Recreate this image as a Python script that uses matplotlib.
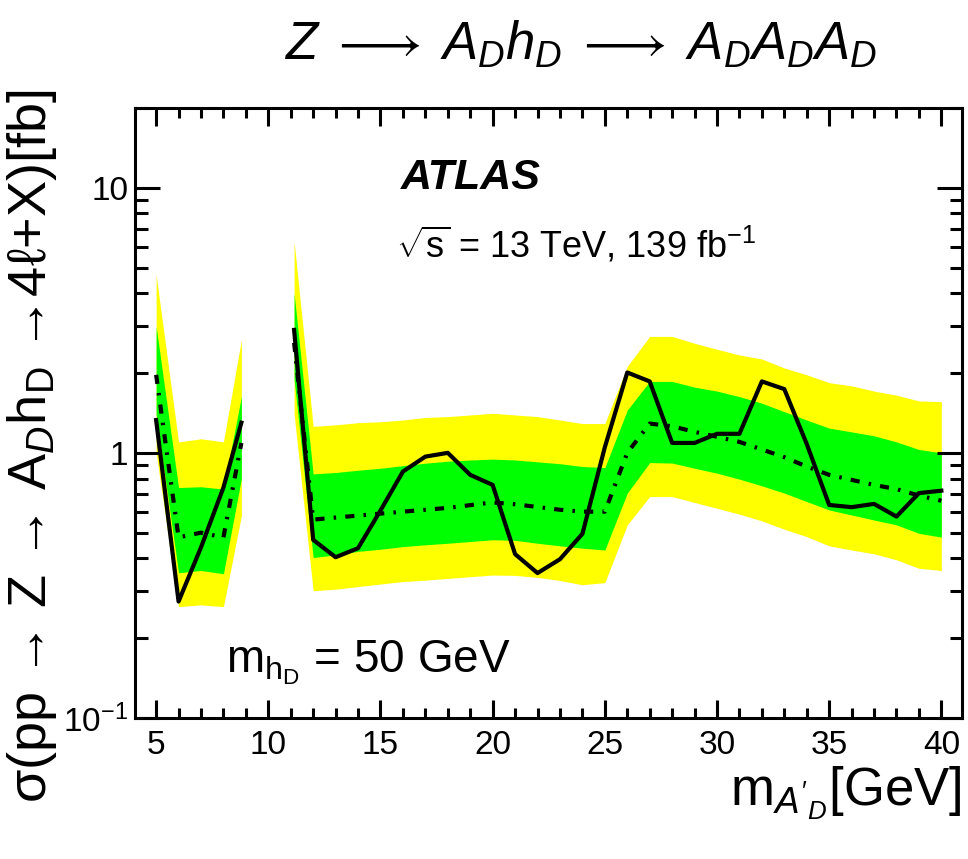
import matplotlib
matplotlib.use("Agg")
import matplotlib.pyplot as plt
from matplotlib.ticker import MultipleLocator, FixedLocator, LogLocator, NullFormatter

plt.rcParams['font.family'] = ['Liberation Sans', 'DejaVu Sans']
plt.rcParams['mathtext.fontset'] = 'custom'
plt.rcParams['mathtext.rm'] = 'Liberation Sans'
plt.rcParams['mathtext.it'] = 'Liberation Sans:italic'
plt.rcParams['mathtext.bf'] = 'Liberation Sans:bold'

# low mass range (below the J/psi veto gap)
m_low = [5, 6, 7, 8, 8.8]
obs_low = [1.33, 0.275, 0.44, 0.74, 1.30]
exp_low = [1.97, 0.48, 0.50, 0.48, 1.09]
p1_low = [3.0, 0.74, 0.745, 0.73, 1.63]
m1_low = [1.4, 0.353, 0.36, 0.35, 0.80]
p2_low = [4.7, 1.10, 1.13, 1.10, 2.67]
m2_low = [1.0, 0.263, 0.267, 0.263, 0.58]

# high mass range
m_high = [11.15, 12, 13, 14, 15, 16, 17, 18, 19, 20, 21, 22, 23, 24, 25,
          26, 27, 28, 29, 30, 31, 32, 33, 34, 35, 36, 37, 38, 39, 40]
obs_high = [2.91, 0.47, 0.404, 0.437, 0.606, 0.85, 0.968, 1.0, 0.826, 0.757,
            0.415, 0.352, 0.397, 0.495, 1.05, 2.01, 1.86, 1.09, 1.09, 1.18,
            1.18, 1.86, 1.74, 1.08, 0.636, 0.624, 0.642, 0.575, 0.705, 0.72]
exp_high = [2.6, 0.56, 0.57, 0.58, 0.59, 0.60, 0.61, 0.62, 0.635, 0.65,
            0.64, 0.625, 0.61, 0.60, 0.60, 1.0, 1.29, 1.26, 1.20, 1.15,
            1.10, 1.03, 0.963, 0.888, 0.826, 0.791, 0.757, 0.73, 0.69, 0.66]
p1_high = [4.0, 0.833, 0.843, 0.86, 0.875, 0.895, 0.914, 0.93, 0.94, 0.947,
           0.94, 0.925, 0.91, 0.888, 0.88, 1.45, 1.86, 1.86, 1.77, 1.71,
           1.63, 1.54, 1.43, 1.33, 1.24, 1.20, 1.16, 1.10, 1.03, 1.0]
m1_high = [1.9, 0.403, 0.412, 0.425, 0.433, 0.443, 0.45, 0.456, 0.463, 0.47,
           0.468, 0.456, 0.446, 0.437, 0.43, 0.705, 0.919, 0.915, 0.875, 0.838,
           0.796, 0.751, 0.705, 0.655, 0.609, 0.583, 0.558, 0.535, 0.497, 0.481]
p2_high = [6.27, 1.26, 1.275, 1.30, 1.31, 1.33, 1.36, 1.37, 1.39, 1.41,
           1.39, 1.37, 1.33, 1.29, 1.29, 2.12, 2.75, 2.75, 2.59, 2.46,
           2.34, 2.26, 2.09, 1.97, 1.84, 1.79, 1.71, 1.65, 1.57, 1.56]
m2_high = [1.4, 0.302, 0.306, 0.313, 0.32, 0.327, 0.331, 0.336, 0.341, 0.346,
           0.345, 0.339, 0.33, 0.318, 0.324, 0.535, 0.684, 0.684, 0.65, 0.618,
           0.587, 0.554, 0.515, 0.483, 0.446, 0.43, 0.416, 0.395, 0.367, 0.36]

yellow = '#FFFF00'
green = '#00FF00'

fig = plt.figure(figsize=(9.68, 8.59), dpi=100)
ax = fig.add_axes([0.1395, 0.1642, 0.8543, 0.7101])

for m, obs, exp, p1, m1, p2, m2 in [(m_low, obs_low, exp_low, p1_low, m1_low, p2_low, m2_low),
                                     (m_high, obs_high, exp_high, p1_high, m1_high, p2_high, m2_high)]:
    ax.fill_between(m, m2, p2, color=yellow, lw=0)
    ax.fill_between(m, m1, p1, color=green, lw=0)
    ax.plot(m, exp, color='black', lw=3, dashes=(2.2, 2.2, 0.6, 2.2))
    ax.plot(m, obs, color='black', lw=3)

ax.set_yscale('log')
ax.set_xlim(4.06, 40.92)
ax.set_ylim(0.1, 20)

ax.xaxis.set_major_locator(MultipleLocator(5))
ax.xaxis.set_minor_locator(MultipleLocator(1))
ax.yaxis.set_major_locator(FixedLocator([0.1, 1, 10]))
ax.set_yticklabels([r'$10^{-1}$', '1', '10'])
ax.yaxis.set_minor_locator(LogLocator(base=10, subs=range(2, 10)))
ax.yaxis.set_minor_formatter(NullFormatter())

ax.tick_params(which='both', direction='in', top=True, right=True, width=2.2, labelsize=24)
ax.tick_params(axis='x', which='major', length=13, pad=9)
ax.tick_params(axis='x', which='minor', length=7)
ax.tick_params(axis='y', which='major', length=18, pad=5)
ax.tick_params(axis='y', which='minor', length=9)
for s in ax.spines.values():
    s.set_linewidth(2.2)

# labels, ROOT style (aligned to the end of the axes)
ax.set_xlabel(r"m$_{A'_{D}}$[GeV]", fontsize=38, ha='right', x=1.0, labelpad=2)
ax.set_ylabel("σ(pp → Z → A$_{D}$h$_{\\rm D}$ →4ℓ+X)[fb]",
              fontsize=39, ha='right', y=1.03, labelpad=3)

fig.text(0.6, 0.948, r'$Z \;\longrightarrow\; A_{D}h_{D} \;\longrightarrow\; A_{D}A_{D}A_{D}$', fontsize=38,
         ha='center', va='center')
ax.text(0.322, 0.885, 'ATLAS', transform=ax.transAxes, fontsize=31, fontweight='bold',
        fontstyle='italic', ha='left', va='center')
ax.text(0.315, 0.775, r'$\sqrt{\mathrm{s}}$ = 13 TeV, 139 fb$^{-1}$', transform=ax.transAxes,
        fontsize=26, ha='left', va='center')
ax.text(0.11, 0.09, r'm$_{\rm h_{\rm D}}$ = 50 GeV', transform=ax.transAxes,
        fontsize=33, ha='left', va='center')

fig.savefig('out.png', dpi=100)
